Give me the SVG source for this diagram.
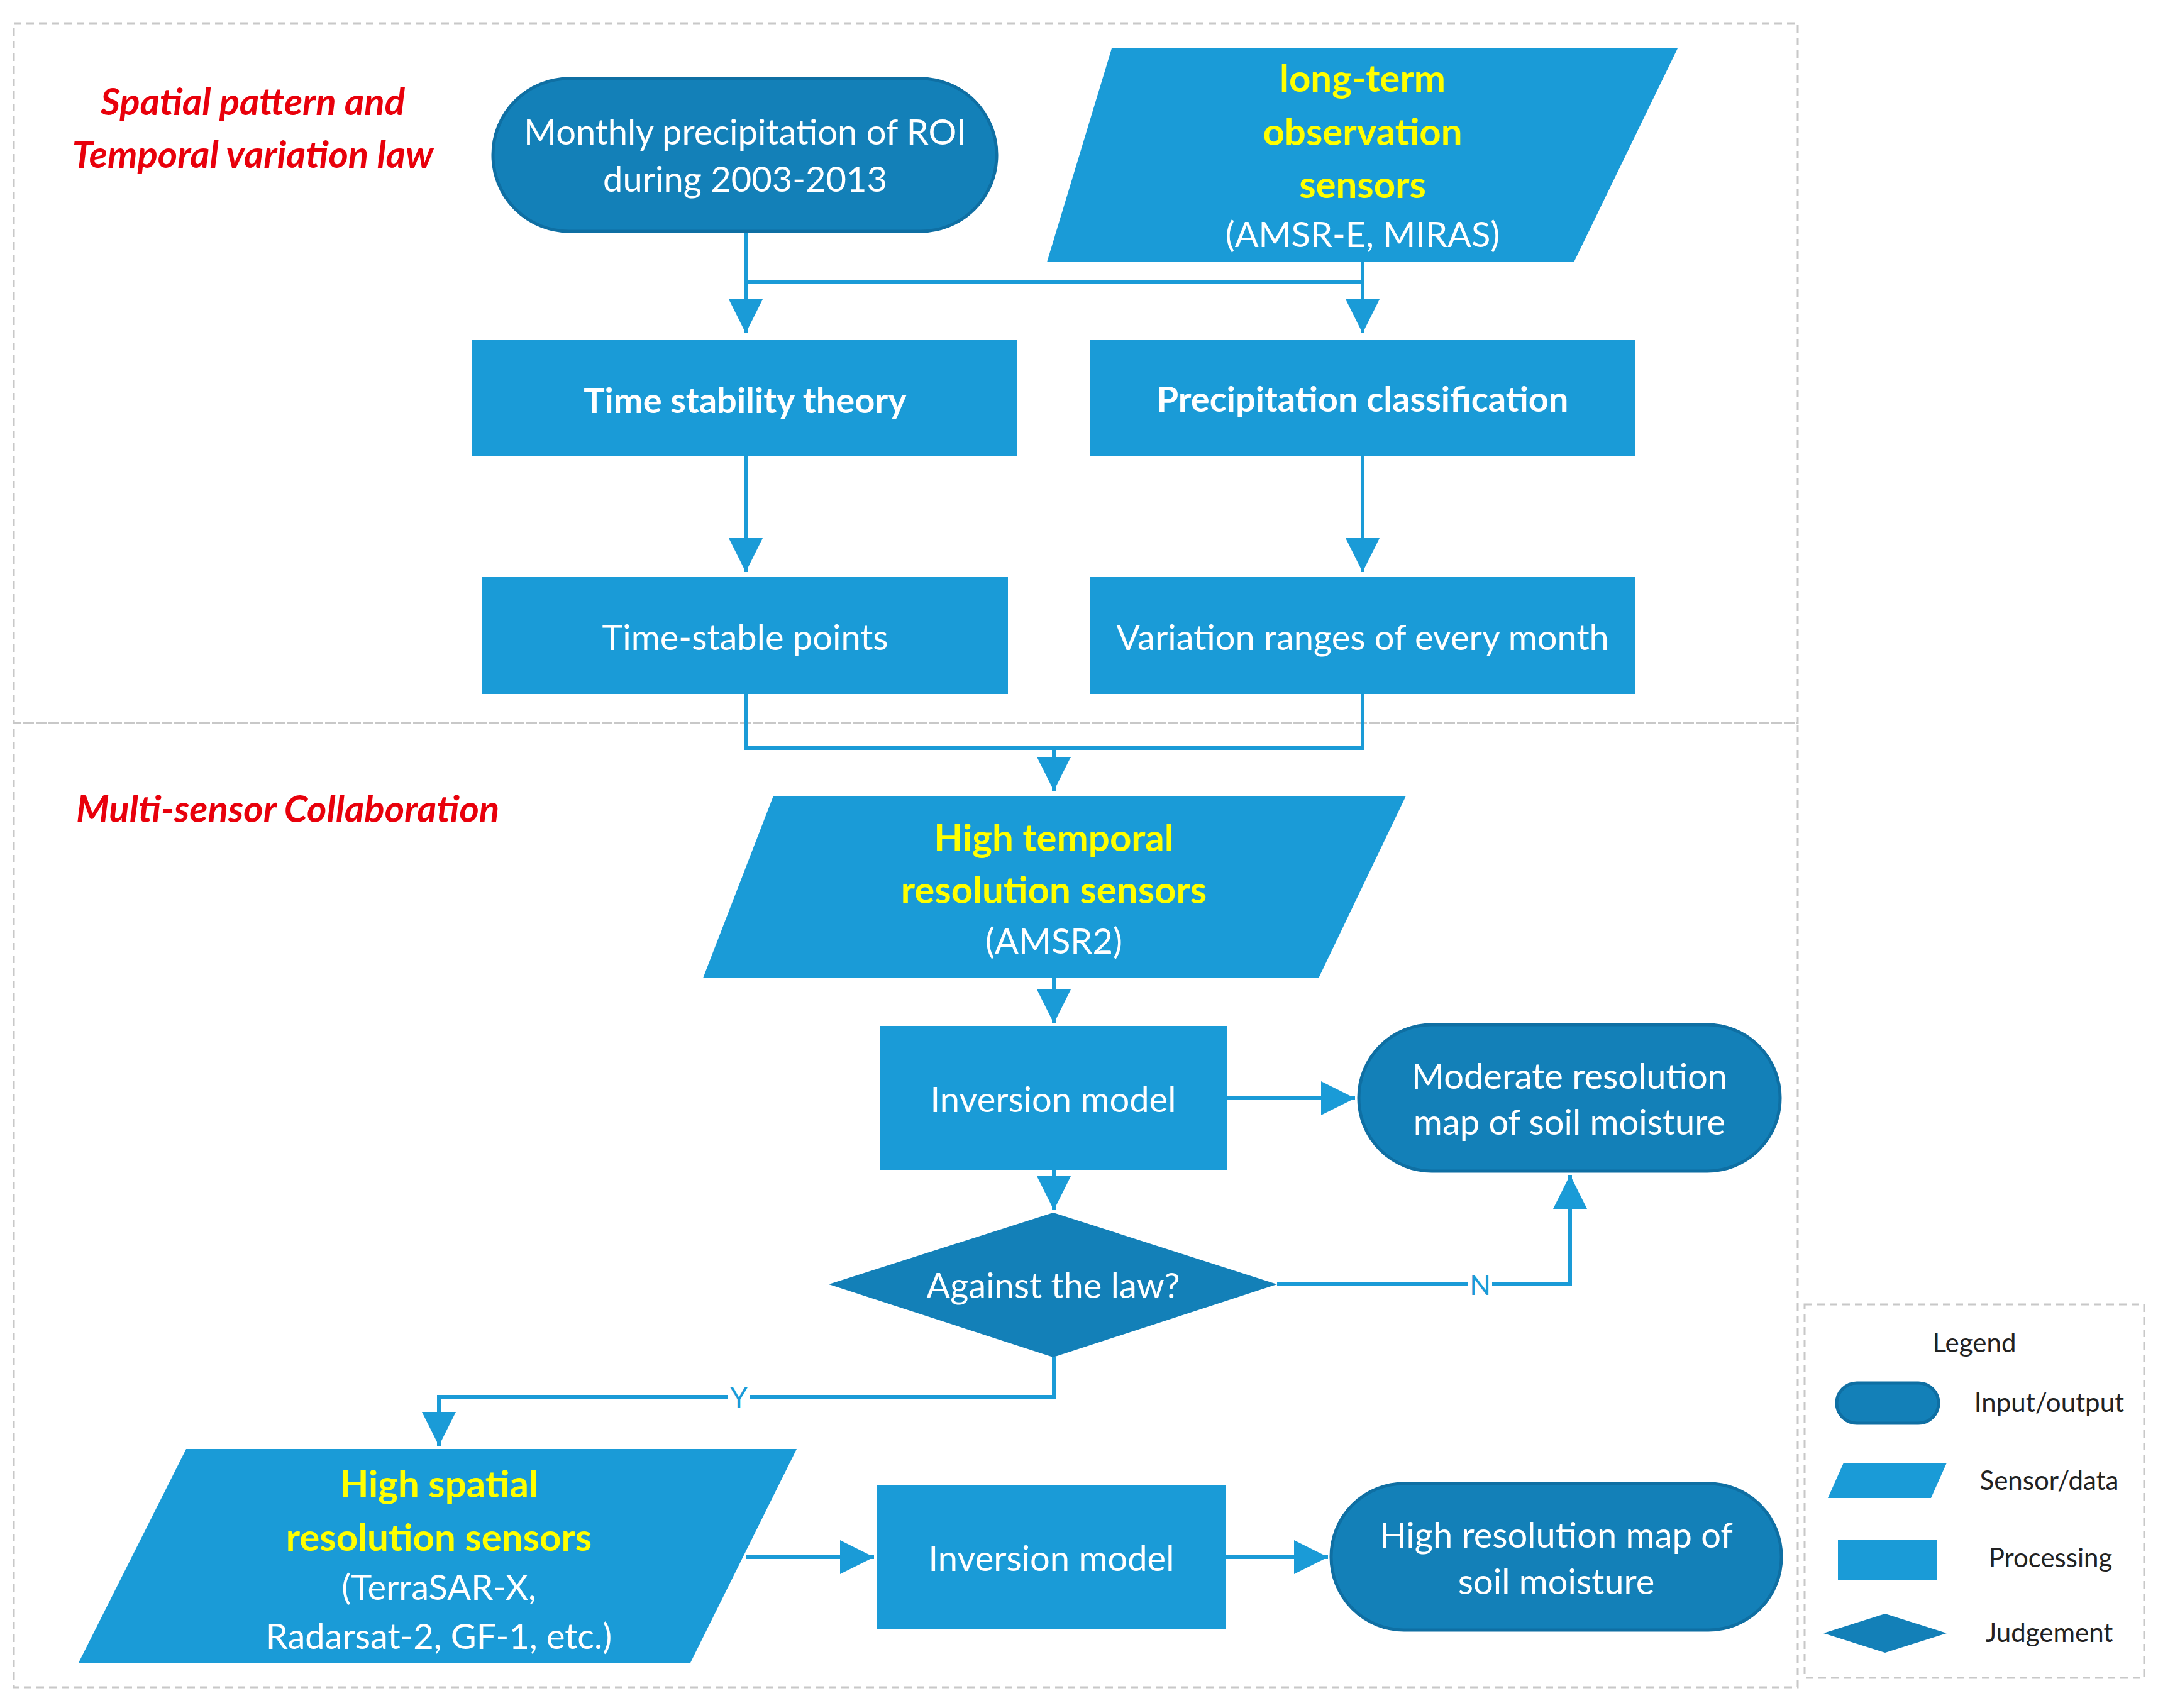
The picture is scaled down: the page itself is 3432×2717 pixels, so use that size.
<svg xmlns="http://www.w3.org/2000/svg" width="3432" height="2717" viewBox="0 0 3432 2717">
<style>
.box{fill:#1a9bd7}
.io{fill:#1380b8;stroke:#0f6fa3;stroke-width:5}
.t{font-family:Lato,"Open Sans",sans-serif;font-size:56px;fill:#fff;text-anchor:middle;dominant-baseline:central}
.b{font-weight:bold}
.y{fill:#ffff00;font-weight:bold;font-size:60px}
.red{font-family:Lato,"Open Sans",sans-serif;font-size:60px;fill:#e8000b;font-style:italic;font-weight:bold}
.lg{font-family:Lato,"Open Sans",sans-serif;font-size:42px;fill:#222;text-anchor:middle;dominant-baseline:central}
.ln{fill:none;stroke:#1a9bd7;stroke-width:6}
.dash{fill:none;stroke:#c8c8c8;stroke-width:3;stroke-dasharray:12 8}
.lbl{font-family:Lato,"Open Sans",sans-serif;font-size:44px;fill:#1a9bd7;text-anchor:middle;dominant-baseline:central}
</style>
<defs>
<marker id="a" viewBox="0 0 10 10" refX="10" refY="5" markerWidth="8" markerHeight="8" markerUnits="userSpaceOnUse" orient="auto"><path d="M0,0 L10,5 L0,10 z" fill="#1a9bd7"/></marker>
<marker id="ah" viewBox="0 0 10 10" refX="10" refY="5" markerWidth="9" markerHeight="9" orient="auto"><path d="M0,0 L10,5 L0,10 z" fill="#1a9bd7"/></marker>
</defs>
<rect width="3432" height="2717" fill="#fff"/>
<g id="frames">
<rect class="dash" x="22" y="37" width="2837" height="1113"/>
<rect class="dash" x="22" y="1150" width="2837" height="1534"/>
<rect class="dash" x="2870" y="2075" width="540" height="594"/>
</g>
<g id="section-labels">
<text class="red" x="402" y="160" text-anchor="middle" dominant-baseline="central">Spatial pattern and</text>
<text class="red" x="402" y="244" text-anchor="middle" dominant-baseline="central">Temporal variation law</text>
<text class="red" x="121" y="1285" dominant-baseline="central">Multi-sensor Collaboration</text>
</g>
<g id="connectors">
<path class="ln" d="M1186,368 V530" marker-end="url(#ah)"/>
<path class="ln" d="M1186,448 H2167"/>
<path class="ln" d="M2167,417 V530" marker-end="url(#ah)"/>
<path class="ln" d="M1186,725 V910" marker-end="url(#ah)"/>
<path class="ln" d="M2167,725 V910" marker-end="url(#ah)"/>
<path class="ln" d="M1186,1104 V1190 H2167 V1104"/>
<path class="ln" d="M1676,1190 V1258" marker-end="url(#ah)"/>
<path class="ln" d="M1676,1556 V1628" marker-end="url(#ah)"/>
<path class="ln" d="M1952,1747 H2155" marker-end="url(#ah)"/>
<path class="ln" d="M1676,1861 V1925" marker-end="url(#ah)"/>
<path class="ln" d="M2031,2043 H2497 V1869" marker-end="url(#ah)"/>
<path class="ln" d="M1676,2159 V2222 H698 V2300" marker-end="url(#ah)"/>
<path class="ln" d="M1186,2477 H1390" marker-end="url(#ah)"/>
<path class="ln" d="M1950,2477 H2112" marker-end="url(#ah)"/>
<rect x="2335" y="2018" width="38" height="50" fill="#fff"/>
<text class="lbl" x="2354" y="2043">N</text>
<rect x="1157" y="2197" width="36" height="50" fill="#fff"/>
<text class="lbl" x="1175" y="2222">Y</text>
</g>
<g id="n-monthly">
<rect class="io" x="784" y="125" width="801" height="243" rx="121"/>
<text class="t" x="1185" y="208">Monthly precipitation of ROI</text>
<text class="t" x="1185" y="283">during 2003-2013</text>
</g>
<g id="n-longterm">
<polygon class="box" points="1768,77 2668,77 2503,417 1665,417"/>
<text class="t y" x="2167" y="123">long-term</text>
<text class="t y" x="2167" y="208">observation</text>
<text class="t y" x="2167" y="292">sensors</text>
<text class="t" x="2167" y="371">(AMSR-E, MIRAS)</text>
</g>
<g id="n-timestability">
<rect class="box" x="751" y="541" width="867" height="184"/>
<text class="t b" x="1185" y="635">Time stability theory</text>
</g>
<g id="n-precipclass">
<rect class="box" x="1733" y="541" width="867" height="184"/>
<text class="t b" x="2167" y="633">Precipitation classification</text>
</g>
<g id="n-timestable">
<rect class="box" x="766" y="918" width="837" height="186"/>
<text class="t" x="1185" y="1012">Time-stable points</text>
</g>
<g id="n-variation">
<rect class="box" x="1733" y="918" width="867" height="186"/>
<text class="t" x="2167" y="1012">Variation ranges of every month</text>
</g>
<g id="n-hightemporal">
<polygon class="box" points="1230,1266 2236,1266 2097,1556 1118,1556"/>
<text class="t y" x="1676" y="1331">High temporal</text>
<text class="t y" x="1676" y="1414">resolution sensors</text>
<text class="t" x="1676" y="1495">(AMSR2)</text>
</g>
<g id="n-inversion1">
<rect class="box" x="1399" y="1632" width="553" height="229"/>
<text class="t" x="1675" y="1747">Inversion model</text>
</g>
<g id="n-moderate">
<rect class="io" x="2161" y="1630" width="670" height="233" rx="116"/>
<text class="t" x="2496" y="1710">Moderate resolution</text>
<text class="t" x="2496" y="1783">map of soil moisture</text>
</g>
<g id="n-against">
<polygon fill="#1380b8" points="1675,1929 2031,2043 1675,2159 1318,2043"/>
<text class="t" x="1675" y="2043">Against the law?</text>
</g>
<g id="n-highspatial">
<polygon class="box" points="296,2305 1267,2305 1098,2645 125,2645"/>
<text class="t y" x="698" y="2359">High spatial</text>
<text class="t y" x="698" y="2444">resolution sensors</text>
<text class="t" x="698" y="2523">(TerraSAR-X,</text>
<text class="t" x="698" y="2601">Radarsat-2, GF-1, etc.)</text>
</g>
<g id="n-inversion2">
<rect class="box" x="1394" y="2362" width="556" height="229"/>
<text class="t" x="1672" y="2477">Inversion model</text>
</g>
<g id="n-highres">
<rect class="io" x="2117" y="2360" width="716" height="233" rx="116"/>
<text class="t" x="2475" y="2440">High resolution map of</text>
<text class="t" x="2475" y="2514">soil moisture</text>
</g>
<g id="legend">
<text class="lg" x="3140" y="2135" font-size="50">Legend</text>
<rect class="io" x="2921" y="2200" width="162" height="64" rx="32"/>
<text class="lg" x="3259" y="2230">Input/output</text>
<polygon class="box" points="2932,2327 3096,2327 3071,2383 2907,2383"/>
<text class="lg" x="3259" y="2354">Sensor/data</text>
<rect class="box" x="2923" y="2450" width="158" height="64"/>
<text class="lg" x="3261" y="2477">Processing</text>
<polygon fill="#1380b8" points="2998,2567 3096,2598 2998,2629 2900,2598"/>
<text class="lg" x="3259" y="2596">Judgement</text>
</g>
</svg>
